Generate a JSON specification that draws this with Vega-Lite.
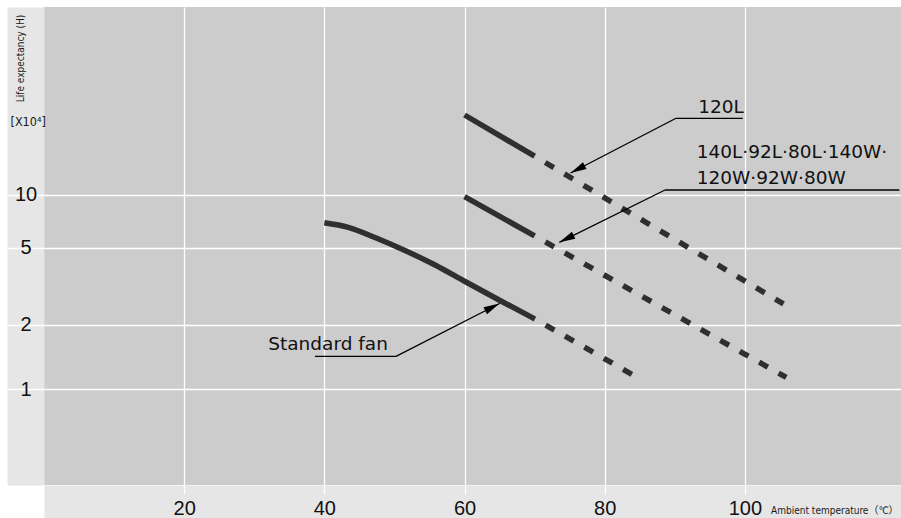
{
  "$schema": "https://vega.github.io/schema/vega-lite/v6.json",
  "width": 857,
  "height": 478,
  "autosize": {"type": "none"},
  "padding": {"left": 44, "top": 7, "right": 0, "bottom": 33},
  "background": "#ffffff",
  "config": {"view": {"fill": "#cccccc", "stroke": null}},
  "datasets": {
    "curves": [
      {"series": "120L", "seg": "solid", "temp": 60, "life": 32.29},
      {"series": "120L", "seg": "solid", "temp": 70, "life": 17.29},
      {"series": "120L", "seg": "dashed", "temp": 70, "life": 17.29},
      {"series": "120L", "seg": "dashed", "temp": 105.5, "life": 2.54},
      {"series": "140L-80W", "seg": "solid", "temp": 60, "life": 9.77},
      {"series": "140L-80W", "seg": "solid", "temp": 70, "life": 5.82},
      {"series": "140L-80W", "seg": "dashed", "temp": 70, "life": 5.82},
      {"series": "140L-80W", "seg": "dashed", "temp": 105.9, "life": 1.128},
      {"series": "Standard fan", "seg": "solid", "temp": 40, "life": 6.905},
      {"series": "Standard fan", "seg": "solid", "temp": 43.42, "life": 6.503},
      {"series": "Standard fan", "seg": "solid", "temp": 47.22, "life": 5.702},
      {"series": "Standard fan", "seg": "solid", "temp": 51.5, "life": 4.837},
      {"series": "Standard fan", "seg": "solid", "temp": 55.79, "life": 4.042},
      {"series": "Standard fan", "seg": "solid", "temp": 60.07, "life": 3.309},
      {"series": "Standard fan", "seg": "solid", "temp": 65.06, "life": 2.644},
      {"series": "Standard fan", "seg": "solid", "temp": 70.05, "life": 2.137},
      {"series": "Standard fan", "seg": "dashed", "temp": 70.05, "life": 2.137},
      {"series": "Standard fan", "seg": "dashed", "temp": 84.0, "life": 1.16}
    ],
    "leaders": [
      {"ann": "120L", "t1": 90.17, "v1": 30.67, "t2": 99.69, "v2": 30.67},
      {"ann": "120L", "t1": 90.17, "v1": 30.67, "t2": 75.12, "v2": 13.58},
      {"ann": "mid", "t1": 88.6, "v1": 10.71, "t2": 122.03, "v2": 10.71},
      {"ann": "mid", "t1": 88.6, "v1": 10.71, "t2": 73.52, "v2": 5.364},
      {"ann": "fan", "t1": 38.66, "v1": 1.4136, "t2": 50.22, "v2": 1.4136},
      {"ann": "fan", "t1": 50.22, "v1": 1.4136, "t2": 64.99, "v2": 2.5535}
    ],
    "arrows": [
      {"ann": "120L", "temp": 75.12, "life": 13.58},
      {"ann": "mid", "temp": 73.52, "life": 5.364},
      {"ann": "fan", "temp": 64.99, "life": 2.5535}
    ],
    "labels": [
      {"text": "120L", "temp": 93.35, "life": 33.17},
      {"text": "140L·92L·80L·140W·", "temp": 93.12, "life": 16.77},
      {"text": "120W·92W·80W", "temp": 93.12, "life": 11.59},
      {"text": "Standard fan", "temp": 32.0, "life": 1.522}
    ]
  },
  "layer": [
    {
      "data": {"name": "curves"},
      "transform": [{"filter": "datum.seg === 'solid'"}],
      "mark": {"type": "line", "color": "#2f2f2f", "strokeWidth": 5.5, "strokeCap": "butt", "interpolate": "monotone"},
      "encoding": {
        "x": {
          "field": "temp", "type": "quantitative",
          "scale": {"domain": [0, 122.27], "nice": false, "zero": false},
          "axis": {
            "orient": "bottom", "offset": 17,
            "domain": true, "domainColor": "#e6e6e6", "domainWidth": 34, "domainCap": "butt",
            "ticks": false, "labels": false,
            "grid": true, "gridColor": "#ffffff", "gridWidth": 1.3, "gridOpacity": 1,
            "values": [20, 40, 60, 80, 100],
            "title": "Ambient temperature（℃）",
            "titleFont": "DejaVu Sans Condensed, Noto Sans CJK JP", "titleFontSize": 10, "titleFontWeight": "normal", "titleColor": "#1a1a1a",
            "titleX": 854, "titleY": 11.5, "titleAlign": "right", "titleBaseline": "alphabetic", "titleAnchor": "end"
          }
        },
        "y": {
          "field": "life", "type": "quantitative",
          "scale": {"type": "pow", "exponent": -0.12, "domain": [0.3905, 216], "nice": false, "zero": false},
          "axis": {
            "orient": "left", "offset": 18.5,
            "domain": true, "domainColor": "#e6e6e6", "domainWidth": 37, "domainCap": "butt",
            "ticks": false, "labels": false,
            "grid": true, "gridColor": "#ffffff", "gridWidth": 1.3, "gridOpacity": 1,
            "values": [1, 2, 5, 10],
            "title": "Life expectancy (H)",
            "titleFont": "DejaVu Sans Condensed", "titleFontSize": 10, "titleFontWeight": "normal", "titleColor": "#1a1a1a",
            "titleAngle": 270, "titleX": -5.5, "titleY": 51, "titleAlign": "center", "titleBaseline": "middle"
          }
        },
        "detail": {"field": "series", "type": "nominal"}
      }
    },
    {
      "data": {"name": "curves"},
      "transform": [{"filter": "datum.seg === 'dashed'"}],
      "mark": {"type": "line", "color": "#2f2f2f", "strokeWidth": 5.5, "strokeCap": "butt", "strokeDash": [10, 12.3], "strokeDashOffset": 10},
      "encoding": {
        "x": {
          "field": "temp", "type": "quantitative",
          "scale": {"domain": [0, 122.27], "nice": false, "zero": false},
          "axis": {
            "orient": "bottom", "offset": 0, "domain": false, "grid": false,
            "ticks": true, "tickColor": "#ffffff", "tickSize": 9, "tickWidth": 1.3,
            "labels": true, "labelFont": "Liberation Sans", "labelFontSize": 20, "labelColor": "#111111",
            "labelPadding": 20, "labelBaseline": "alphabetic", "labelFlush": false, "labelOverlap": false,
            "values": [20, 40, 60, 80, 100], "format": "d", "title": null, "zindex": 1
          }
        },
        "y": {
          "field": "life", "type": "quantitative",
          "scale": {"type": "pow", "exponent": -0.12, "domain": [0.3905, 216], "nice": false, "zero": false},
          "axis": {
            "orient": "left", "offset": 0, "domain": false, "grid": false,
            "ticks": true, "tickColor": "#ffffff", "tickSize": 37, "tickWidth": 1.3,
            "labels": true, "labelFont": "Liberation Sans", "labelFontSize": 20, "labelColor": "#111111",
            "labelPadding": -18.5, "labelAlign": "center", "labelBaseline": "middle", "labelOverlap": false,
            "values": [1, 2, 5, 10], "format": "d",
            "title": "[X10⁴]",
            "titleFont": "DejaVu Sans Condensed", "titleFontSize": 12.5, "titleFontWeight": "normal", "titleColor": "#1a1a1a",
            "titleAngle": 0, "titleX": -34, "titleY": 118.5, "titleAlign": "left", "titleBaseline": "alphabetic",
            "zindex": 1
          }
        },
        "detail": {"field": "series", "type": "nominal"}
      }
    },
    {
      "data": {"name": "leaders"},
      "mark": {"type": "rule", "color": "#000000", "strokeWidth": 1.3},
      "encoding": {
        "x": {"field": "t1", "type": "quantitative", "axis": null},
        "y": {"field": "v1", "type": "quantitative", "axis": null},
        "x2": {"field": "t2"},
        "y2": {"field": "v2"}
      }
    },
    {
      "data": {"name": "arrows"},
      "transform": [{"filter": "datum.ann === '120L'"}],
      "mark": {"type": "point", "shape": "M0,0L-1,-0.24L-1,0.24Z", "size": 1024, "filled": true, "color": "#000000", "opacity": 1, "angle": 152.6},
      "encoding": {
        "x": {"field": "temp", "type": "quantitative", "axis": null},
        "y": {"field": "life", "type": "quantitative", "axis": null}
      }
    },
    {
      "data": {"name": "arrows"},
      "transform": [{"filter": "datum.ann === 'mid'"}],
      "mark": {"type": "point", "shape": "M0,0L-1,-0.24L-1,0.24Z", "size": 1024, "filled": true, "color": "#000000", "opacity": 1, "angle": 153.7},
      "encoding": {
        "x": {"field": "temp", "type": "quantitative", "axis": null},
        "y": {"field": "life", "type": "quantitative", "axis": null}
      }
    },
    {
      "data": {"name": "arrows"},
      "transform": [{"filter": "datum.ann === 'fan'"}],
      "mark": {"type": "point", "shape": "M0,0L-1,-0.24L-1,0.24Z", "size": 1024, "filled": true, "color": "#000000", "opacity": 1, "angle": 333},
      "encoding": {
        "x": {"field": "temp", "type": "quantitative", "axis": null},
        "y": {"field": "life", "type": "quantitative", "axis": null}
      }
    },
    {
      "data": {"name": "labels"},
      "mark": {"type": "text", "align": "left", "baseline": "alphabetic", "font": "DejaVu Sans", "fontSize": 18.5, "color": "#111111"},
      "encoding": {
        "x": {"field": "temp", "type": "quantitative", "axis": null},
        "y": {"field": "life", "type": "quantitative", "axis": null},
        "text": {"field": "text", "type": "nominal"}
      }
    }
  ],
  "resolve": {"axis": {"x": "independent", "y": "independent"}}
}
